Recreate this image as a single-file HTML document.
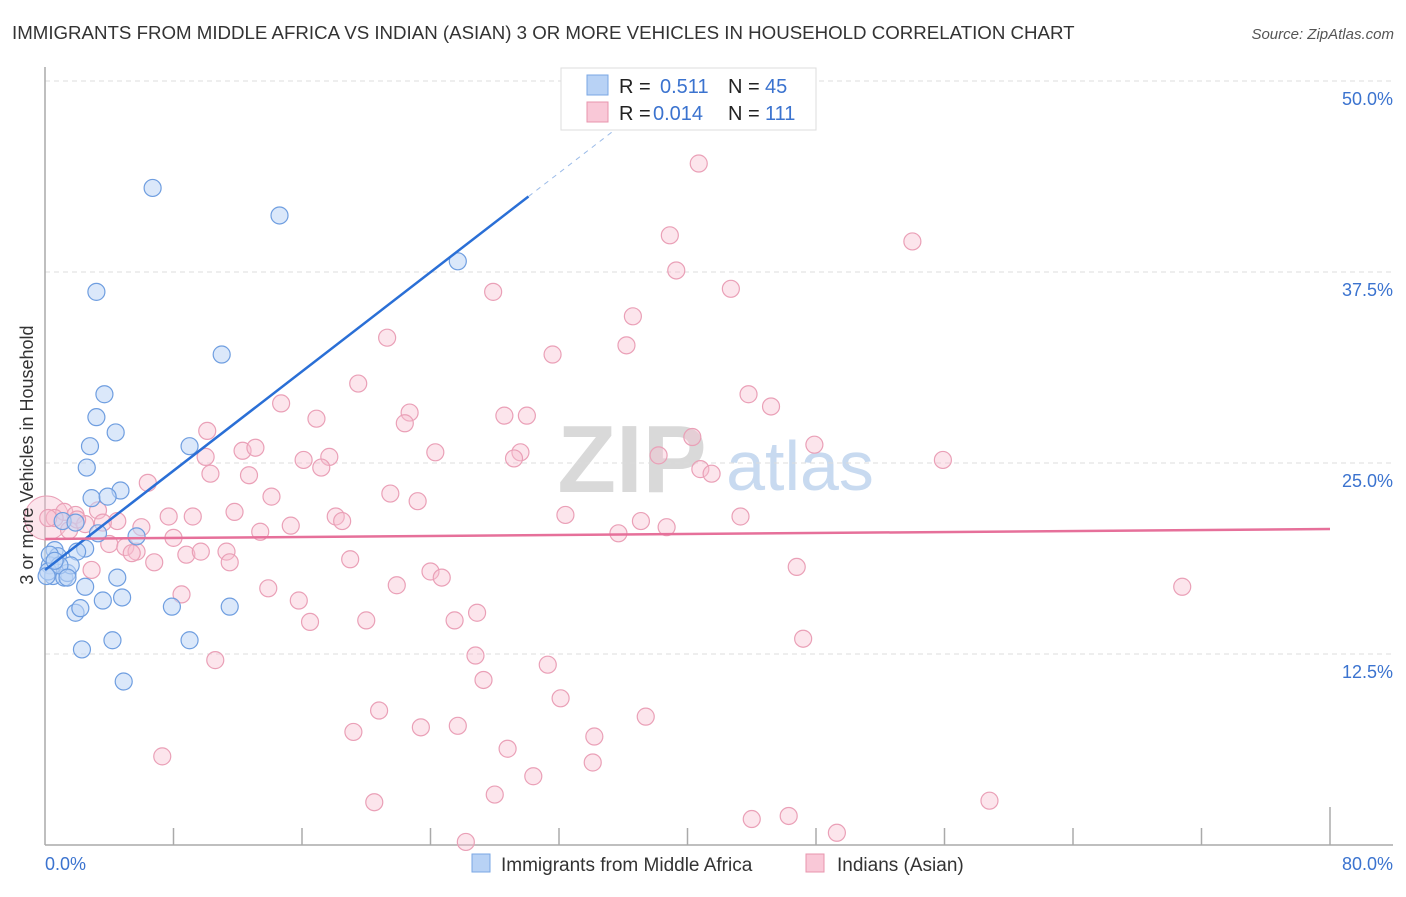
<!DOCTYPE html>
<html><head><meta charset="utf-8">
<style>
body{margin:0;background:#fff;font-family:"Liberation Sans",sans-serif;}
svg text{font-family:"Liberation Sans",sans-serif;}
</style></head>
<body>
<svg id="chart" width="1406" height="892" xmlns="http://www.w3.org/2000/svg">
<text x="12" y="39" font-size="18.7" fill="#333">IMMIGRANTS FROM MIDDLE AFRICA VS INDIAN (ASIAN) 3 OR MORE VEHICLES IN HOUSEHOLD CORRELATION CHART</text>
<text x="1394" y="39" font-size="15" fill="#555" font-style="italic" text-anchor="end">Source: ZipAtlas.com</text>
<g>
<text x="632" y="492" font-size="96" font-family="Liberation Serif" fill="#d9d9d9" text-anchor="middle" font-weight="bold">ZIP</text>
<text x="800" y="490" font-size="70" fill="#c8daf0" text-anchor="middle">atlas</text>
</g>
<g id="grid"></g>
<g id="axes"></g>
<g id="marks"></g>
<text transform="translate(33,455) rotate(-90)" font-size="18" fill="#333" text-anchor="middle">3 or more Vehicles in Household</text>
<g>
<rect x="561" y="68" width="255" height="62" fill="#fff" stroke="#ddd"/>
<rect x="587" y="75" width="21" height="20" fill="#b8d2f5" stroke="#7aa7e4"/>
<text x="619" y="93" font-size="20" fill="#222">R = </text>
<text x="660" y="93" font-size="20" fill="#3b73cf">0.511</text>
<text x="728" y="93" font-size="20" fill="#222">N = </text>
<text x="765" y="93" font-size="20" fill="#3b73cf">45</text>
<rect x="587" y="102" width="21" height="20" fill="#f9c8d7" stroke="#e895ae"/>
<text x="619" y="120" font-size="20" fill="#222">R = </text>
<text x="653" y="120" font-size="20" fill="#3b73cf">0.014</text>
<text x="728" y="120" font-size="20" fill="#222">N = </text>
<text x="765" y="120" font-size="20" fill="#3b73cf">111</text>
</g>
<g>
<rect x="472" y="854" width="18" height="18" fill="#b8d2f5" stroke="#7aa7e4"/>
<text x="501" y="871" font-size="19" fill="#333">Immigrants from Middle Africa</text>
<rect x="806" y="854" width="18" height="18" fill="#f9c8d7" stroke="#e895ae"/>
<text x="837" y="871" font-size="19" fill="#333">Indians (Asian)</text>
</g>
</svg>
<script>
const yTicks=[12.5,25,37.5,50];
const yTickLabels=["12.5%","25.0%","37.5%","50.0%"];
const xTicks=[0,8,16,24,32,40,48,56,64,72,80];
const blueX=[6.7,14.6,25.7,3.2,11.0,3.7,3.2,4.4,2.8,9.0,2.6,4.7,2.9,3.9,5.7,3.3,1.1,1.9,0.6,2.5,0.8,2.0,0.3,0.5,1.2,1.4,1.6,0.2,4.5,2.5,4.8,3.6,1.9,2.2,7.9,11.5,4.2,9.0,2.3,4.9,0.3,0.9,1.4,0.1,0.6];
const blueY=[43.0,41.2,38.2,36.2,32.1,29.5,28.0,27.0,26.1,26.1,24.7,23.2,22.7,22.8,20.2,20.4,21.2,21.1,19.3,19.4,18.9,19.2,18.3,17.6,17.5,17.8,18.3,17.9,17.5,16.9,16.2,16.0,15.2,15.5,15.6,15.6,13.4,13.4,12.8,10.7,19.0,18.3,17.5,17.6,18.6];
const pinkX=[40.7,54.0,38.9,39.3,42.7,27.9,36.6,36.2,21.3,31.6,19.5,43.8,14.7,45.2,22.7,28.6,30.0,22.4,16.9,10.1,40.3,47.9,12.3,13.1,24.3,29.6,29.2,10.0,17.7,38.2,16.1,17.2,55.9,10.3,12.7,40.8,41.5,6.4,21.5,14.1,23.2,11.8,32.4,43.3,7.7,9.2,18.1,18.5,37.1,38.7,15.3,13.4,35.7,6.0,4.5,3.3,3.6,1.2,1.9,0.6,2.5,4.0,5.0,5.7,5.4,8.8,8.0,9.7,11.3,2.9,6.8,11.5,19.0,24.0,24.7,46.8,13.9,21.9,8.5,15.8,16.5,20.0,25.5,26.9,47.2,10.6,26.8,31.3,27.3,32.1,37.4,20.8,19.2,23.4,25.7,34.2,28.8,7.3,34.1,30.4,28.0,20.5,58.8,46.3,44.0,49.3,26.2,70.8,0.2,1.5,2.0];
const pinkY=[44.6,39.5,39.9,37.6,36.4,36.2,34.6,32.7,33.2,32.1,30.2,29.5,28.9,28.7,28.3,28.1,28.1,27.6,27.9,27.1,26.7,26.2,25.8,26.0,25.7,25.7,25.3,25.4,25.4,25.5,25.2,24.7,25.2,24.3,24.2,24.6,24.3,23.7,23.0,22.8,22.5,21.8,21.6,21.5,21.5,21.5,21.5,21.2,21.2,20.8,20.9,20.5,20.4,20.8,21.2,21.9,21.1,21.8,21.6,21.4,21.0,19.7,19.5,19.2,19.1,19.0,20.1,19.2,19.2,18.0,18.5,18.5,18.7,17.9,17.5,18.2,16.8,17.0,16.4,16.0,14.6,14.7,14.7,15.2,13.5,12.1,12.4,11.8,10.8,9.6,8.4,8.8,7.4,7.7,7.8,7.1,6.3,5.8,5.4,4.5,3.3,2.8,2.9,1.9,1.7,0.8,0.2,16.9,21.4,20.6,21.3];
const bigPink=[0.1,21.4];
const blueTrend=[18.0,0.812];
const pinkTrend=[20.03,0.0081];
const X0=45,X1=1330,Y0=845,YPER=15.28;
const sx=v=>X0+(X1-X0)*v/80;
const sy=v=>Y0-v*YPER;
const NS="http://www.w3.org/2000/svg";
function mk(tag,attrs,parent){const e=document.createElementNS(NS,tag);for(const k in attrs)e.setAttribute(k,attrs[k]);document.getElementById(parent).appendChild(e);return e;}
yTicks.forEach((t,i)=>{
  const g=mk('line',{x1:X0,x2:1393,y1:sy(t),y2:sy(t),stroke:'#dcdcdc','stroke-dasharray':'5,4'},'grid');
  
  
  const tx=mk('text',{x:1393,y:sy(t)+24,'font-size':18,fill:'#3b73cf','text-anchor':'end'},'grid');
  tx.textContent=yTickLabels[i];
  
  
});
const ya=mk('line',{x1:X0,x2:X0,y1:67,y2:Y0,stroke:'#aaa','stroke-width':1.5},'axes');


const xa=mk('line',{x1:X0,x2:1393,y1:Y0,y2:Y0,stroke:'#aaa','stroke-width':1.5},'axes');


xTicks.forEach((t,i)=>{
  if(i==0) return;
  const l=mk('line',{x1:sx(t),x2:sx(t),y1:(i==xTicks.length-1)?Y0-38:Y0-17,y2:Y0,stroke:'#aaa','stroke-width':1.5},'axes');
  
  
});
const xl0=mk('text',{x:45,y:870,'font-size':18,fill:'#3b73cf'},'axes');xl0.textContent='0.0%';


const xl1=mk('text',{x:1393,y:870,'font-size':18,fill:'#3b73cf','text-anchor':'end'},'axes');xl1.textContent='80.0%';


const bp=mk('circle',{cx:sx(bigPink[0]),cy:sy(bigPink[1]),r:22,fill:'rgba(248,190,208,0.4)',stroke:'#eaa0b7'},'marks');


pinkX.forEach((x,i)=>{
  const c=mk('circle',{cx:sx(x),cy:sy(pinkY[i]),r:8.5,fill:'rgba(248,190,208,0.4)',stroke:'#eaa0b7','stroke-width':1.2},'marks');
  
  
});
blueX.forEach((x,i)=>{
  const c=mk('circle',{cx:sx(x),cy:sy(blueY[i]),r:8.5,fill:'rgba(190,214,245,0.55)',stroke:'#6f9ee0','stroke-width':1.2},'marks');
  
  
});
const bt=mk('line',{x1:sx(0),y1:sy(blueTrend[0]),x2:sx(30.1),y2:sy(blueTrend[0]+blueTrend[1]*30.1),stroke:'#2a6fd6','stroke-width':2.5},'marks');


const bd=mk('line',{x1:sx(30.1),y1:sy(blueTrend[0]+blueTrend[1]*30.1),x2:sx(36.3),y2:sy(blueTrend[0]+blueTrend[1]*36.3),stroke:'#9bbbe8','stroke-width':1,'stroke-dasharray':'5,5'},'marks');


const pt=mk('line',{x1:sx(0),y1:sy(pinkTrend[0]),x2:sx(80),y2:sy(pinkTrend[0]+pinkTrend[1]*80),stroke:'#e6709a','stroke-width':2.5},'marks');


</script>
</body></html>
